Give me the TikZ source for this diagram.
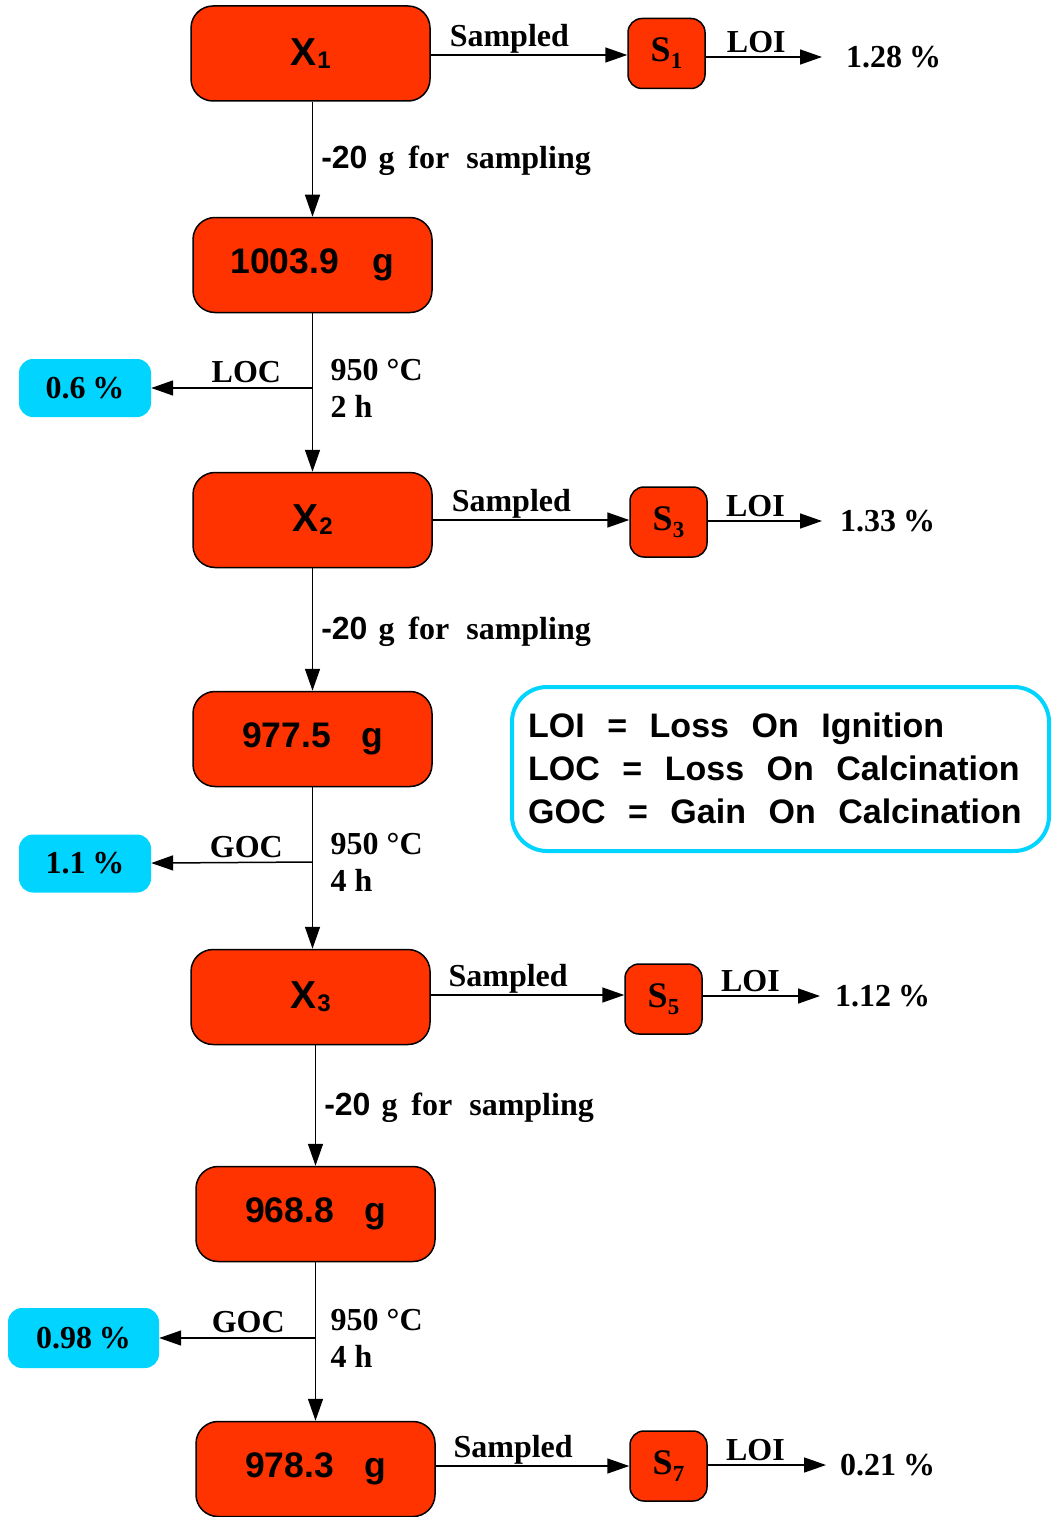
\documentclass[tikz,border=0pt]{standalone}
\usepackage{fontspec}
\setmainfont{Liberation Serif}
\setsansfont{Liberation Sans}
\usetikzlibrary{arrows.meta}
\definecolor{boxred}{RGB}{255,51,0}
\definecolor{boxcyan}{RGB}{0,212,255}
\newcommand\bsub[1]{\kern1pt\raisebox{-3pt}{\fontsize{24}{24}\selectfont #1}}
\newcommand\ssub[1]{\raisebox{-7pt}{\fontsize{23}{23}\selectfont #1}}
\newcommand\xlab[1]{{\fontsize{39}{39}\selectfont X\bsub{#1}}}
\newcommand\wgap{\hspace{22.5pt}}
\newcommand\samp{{\sffamily -20}\hspace{11pt}g\hspace{14pt}for\hspace{17pt}sampling}
\begin{document}
\begin{tikzpicture}[x=1pt,y=-1pt,
  big/.style={draw=black, line width=1.5pt, fill=boxred, rounded corners=22pt,
    minimum width=239pt, minimum height=95pt, inner sep=0,
    font=\sffamily\bfseries\fontsize{35.5}{35.5}\selectfont},
  small/.style={draw=black, line width=1.5pt, fill=boxred, rounded corners=14pt,
    minimum width=77pt, minimum height=70pt, inner sep=0,
    font=\bfseries\fontsize{36}{36}\selectfont},
  res/.style={fill=boxcyan, rounded corners=14pt, minimum width=132pt,
    minimum height=58pt, inner sep=0, font=\bfseries\fontsize{32}{32}\selectfont},
  lbl/.style={font=\bfseries\fontsize{32}{37}\selectfont, inner sep=0},
  heat/.style={font=\bfseries\fontsize{32}{37}\selectfont, inner sep=0, align=left},
  conn/.style={line width=1.5pt, -{Triangle[length=22pt,width=15pt]}},
]
\useasboundingbox (0,0) rectangle (1058,1517);

% main column
\node[big] (x1) at (310.5,53.5) {\xlab{1}};
\node[big] (m1) at (312.5,265) {1003.9\hspace{34pt}g};
\node[big] (x2) at (312.5,520) {\xlab{2}};
\node[big] (m2) at (312.5,739) {977.5\hspace{30pt}g};
\node[big] (x3) at (310.5,997) {\xlab{3}};
\node[big] (m3) at (315.5,1214) {968.8\hspace{30pt}g};
\node[big] (m4) at (315.5,1469) {978.3\hspace{30pt}g};

% sample boxes
\node[small] (s1) at (666.5,53.5) {S\ssub{1}};
\node[small] (s3) at (668.5,522) {S\ssub{3}};
\node[small] (s5) at (663.5,999) {S\ssub{5}};
\node[small] (s7) at (668.5,1466) {S\ssub{7}};

% LOI results
\node[lbl, anchor=west] (p1) at (846,57) {1.28\hspace{7pt}\%};
\node[lbl, anchor=west] (p3) at (840,521) {1.33\hspace{7pt}\%};
\node[lbl, anchor=west] (p5) at (835,996) {1.12\hspace{7pt}\%};
\node[lbl, anchor=west] (p7) at (840,1465) {0.21\hspace{7pt}\%};

% calcination results
\node[res] (c1) at (85,388) {0.6\hspace{7pt}\%};
\node[res] (c2) at (85,863.5) {1.1\hspace{7pt}\%};
\node[res, minimum width=151pt, minimum height=60pt] (c3) at (83.5,1338) {0.98\hspace{7pt}\%};

% junctions on the vertical lines
\coordinate (j1) at (312.5,388);
\coordinate (j2) at (312.5,862);
\coordinate (j3) at (315.5,1338);

% sampled arrows
\draw[conn] (x1.east |- 0,55) -- (s1.west |- 0,55) node[lbl, pos=0.4, above=1pt] {Sampled};
\draw[conn] (x2.east) -- (x2.east -| s3.west) node[lbl, pos=0.4, above=1pt] {Sampled};
\draw[conn] (x3.east |- 0,995) -- (s5.west |- 0,995) node[lbl, pos=0.4, above=1pt] {Sampled};
\draw[conn] (m4.east |- s7) -- (s7.west) node[lbl, pos=0.4, above=1pt] {Sampled};

% LOI arrows
\draw[conn, shorten >=24pt] (s1.east |- p1) -- (p1.west) node[lbl, pos=0.36, above=3pt] {LOI};
\draw[conn, shorten >=18pt] (s3.east |- p3) -- (p3.west) node[lbl, pos=0.36, above=3pt] {LOI};
\draw[conn, shorten >=15pt] (s5.east |- p5) -- (p5.west) node[lbl, pos=0.36, above=3pt] {LOI};
\draw[conn, shorten >=14pt] (s7.east |- p7) -- (p7.west) node[lbl, pos=0.36, above=3pt] {LOI};

% vertical flow
\draw[conn] (x1.south -| m1) -- (m1.north) node[lbl, midway, right=8pt, yshift=-2pt] {\samp};
\draw[conn] (m1) -- (x2);
\draw[conn] (x2) -- (m2) node[lbl, midway, right=8pt, yshift=-2pt] {\samp};
\draw[conn] (m2.south) -- (m2.south |- x3.north);
\draw[conn] (x3.south -| m3) -- (m3.north) node[lbl, midway, right=8pt, yshift=-2pt] {\samp};
\draw[conn] (m3) -- (m4);

% calcination branches
\draw[conn] (j1) -- (c1) node[lbl, pos=0.41, above=4pt] {LOC};
\draw[conn] (j2) -- (c2) node[lbl, pos=0.41, above=4pt] {GOC};
\draw[conn] (j3) -- (c3) node[lbl, pos=0.43, above=4pt] {GOC};
\node[heat, anchor=west] (h1) at ([xshift=18pt]j1) {950 °C\\2 h};
\node[heat, anchor=west] (h2) at ([xshift=18pt]j2) {950 °C\\4 h};
\node[heat, anchor=west] (h3) at ([xshift=15pt]j3) {950 °C\\4 h};

% legend
\node[draw=boxcyan, line width=4pt, rounded corners=35pt, minimum width=537pt,
  minimum height=164pt, inner sep=0] (leg) at (780.5,769) {};
\node[anchor=west, align=left, inner sep=0,
  font=\sffamily\bfseries\fontsize{34}{43}\selectfont] (legtxt) at (528,768)
  {LOI\wgap=\wgap Loss\wgap On\wgap Ignition\\
   LOC\wgap=\wgap Loss\wgap On\wgap Calcination\\
   GOC\wgap=\wgap Gain\wgap On\wgap Calcination};
\end{tikzpicture}
\end{document}
